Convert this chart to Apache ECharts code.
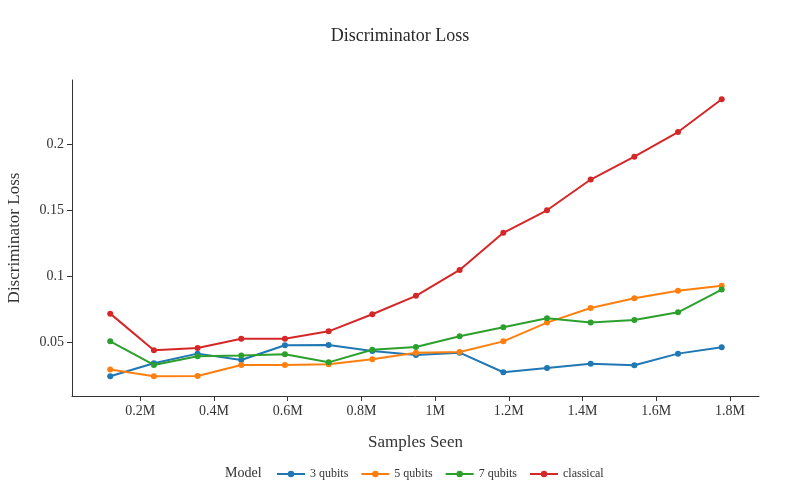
<!DOCTYPE html>
<html>
<head>
<meta charset="utf-8">
<script src="https://cdn.jsdelivr.net/npm/echarts@6/dist/echarts.min.js"></script>
<style>html,body{margin:0;padding:0;background:#fff}#c{width:800px;height:500px}</style>
</head>
<body>
<div id="c"></div>
<script>
const samples = [118500, 237000, 355500, 474000, 592500, 711000, 829500, 948000, 1066500, 1185000, 1303500, 1422000, 1540500, 1659000, 1777500];
const q3 = [0.0242, 0.0341, 0.0414, 0.0366, 0.0477, 0.0480, 0.0434, 0.0404, 0.0421, 0.0273, 0.0305, 0.0338, 0.0326, 0.0414, 0.0462];
const q5 = [0.0293, 0.0242, 0.0245, 0.0328, 0.0328, 0.0333, 0.0371, 0.0421, 0.0426, 0.0507, 0.0649, 0.0760, 0.0833, 0.0891, 0.0929];
const q7 = [0.0507, 0.0328, 0.0394, 0.0399, 0.0409, 0.0348, 0.0443, 0.0464, 0.0545, 0.0614, 0.0682, 0.0649, 0.0669, 0.0727, 0.0899];
const classical = [0.0717, 0.0439, 0.0457, 0.0527, 0.0527, 0.0583, 0.0712, 0.0852, 0.1048, 0.1329, 0.1500, 0.1733, 0.1906, 0.2093, 0.2341];
const seriesNames = ['3 qubits', '5 qubits', '7 qubits', 'classical'];
const seriesData = [q3, q5, q7, classical];
const colors = ['#1f77b4', '#ff7f0e', '#2ca02c', '#d62728'];
const xTicks = [200000, 400000, 600000, 800000, 1000000, 1200000, 1400000, 1600000, 1800000];
const yTicks = [0.05, 0.1, 0.15, 0.2];

const font = '"Liberation Serif", "Times New Roman", serif';
const chart = echarts.init(document.getElementById('c'), null, {renderer: 'canvas'});
chart.setOption({
  animation: false,
  textStyle: {fontFamily: font},
  title: {
    text: 'Discriminator Loss', left: 'center', top: 22,
    textStyle: {fontFamily: font, fontSize: 18, fontWeight: 'normal', color: '#2a2a2a'}
  },
  grid: {left: 72, right: 41, top: 80, bottom: 104, outerBoundsMode: 'none', containLabel: false},
  legend: {
    left: 271, top: 463, itemWidth: 28, itemHeight: 8, itemGap: 12,
    textStyle: {fontFamily: font, fontSize: 12, color: '#333'},
    data: seriesNames
  },
  graphic: [{
    type: 'text', left: 225, top: 466,
    style: {text: 'Model', font: '14px ' + font, fill: '#333'}
  }],
  xAxis: {
    type: 'value', min: 14800, max: 1878700,
    name: 'Samples Seen', nameLocation: 'middle', nameGap: 38,
    nameTextStyle: {fontFamily: font, fontSize: 17, color: '#333'},
    axisLine: {show: true, lineStyle: {color: '#333', width: 1}},
    axisTick: {show: true, length: 5, lineStyle: {color: '#333'}, customValues: xTicks},
    axisLabel: {fontFamily: font, fontSize: 14, color: '#333', margin: 8, customValues: xTicks,
      formatter: v => (v / 1e6) + 'M'},
    splitLine: {show: false}
  },
  yAxis: {
    type: 'value', min: 0.0093, max: 0.2487,
    name: 'Discriminator Loss', nameLocation: 'middle', nameGap: 49,
    nameTextStyle: {fontFamily: font, fontSize: 17, color: '#333'},
    axisLine: {show: true, lineStyle: {color: '#333', width: 1}},
    axisTick: {show: true, length: 5, lineStyle: {color: '#333'}, customValues: yTicks},
    axisLabel: {fontFamily: font, fontSize: 14, color: '#333', margin: 8, customValues: yTicks,
      formatter: v => String(v)},
    splitLine: {show: false}
  },
  series: seriesNames.map((n, i) => ({
    name: n, type: 'line',
    data: samples.map((x, j) => [x, seriesData[i][j]]),
    symbol: 'circle', symbolSize: 6,
    lineStyle: {width: 2, color: colors[i]},
    itemStyle: {color: colors[i]}
  }))
});
</script>
</body>
</html>
